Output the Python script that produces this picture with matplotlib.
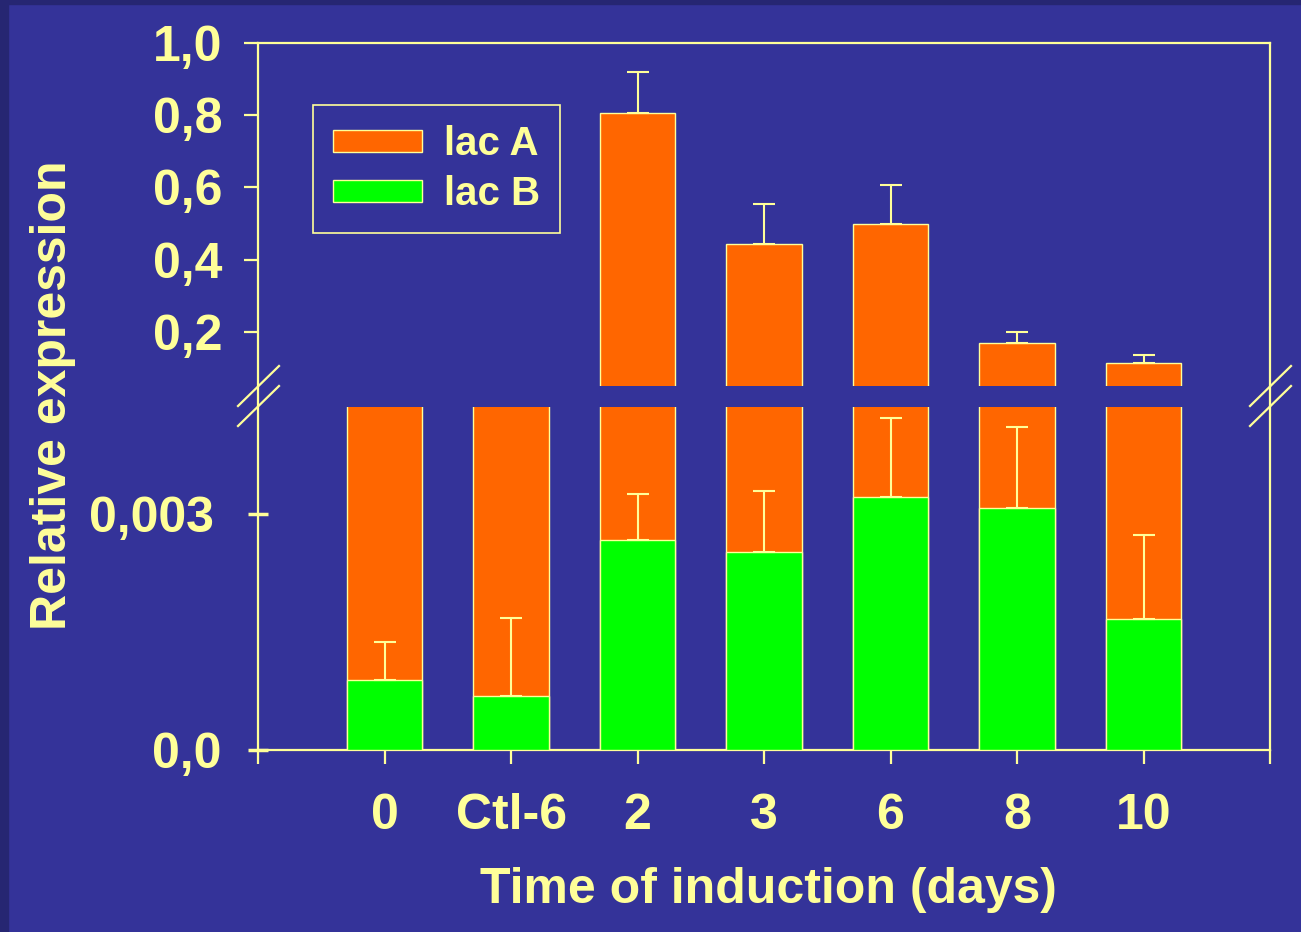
import matplotlib
matplotlib.use("Agg")
import matplotlib.pyplot as plt
from matplotlib.lines import Line2D
from matplotlib.patches import Rectangle
import numpy as np

plt.rcParams['font.family'] = ['Liberation Sans', 'DejaVu Sans']
plt.rcParams['font.weight'] = 'bold'

days = ['0', 'Ctl-6', '2', '3', '6', '8', '10']
# lac A for 0 and Ctl-6 lies off scale, between the two panels
lac_a = [0.02, 0.02, 0.805, 0.444, 0.499, 0.170, 0.114]
lac_a_err = [0.0, 0.0, 0.115, 0.110, 0.108, 0.030, 0.022]
lac_b = [0.00089, 0.00069, 0.00267, 0.00252, 0.00321, 0.00307, 0.00166]
lac_b_err = [0.00048, 0.00099, 0.00058, 0.00077, 0.00101, 0.00103, 0.00107]

top_ticks = [0.2, 0.4, 0.6, 0.8, 1.0]
top_labels = ['0,2', '0,4', '0,6', '0,8', '1,0']
bot_ticks = [0.0, 0.003]
bot_labels = ['0,0', '0,003']

bg = '#343399'
fg = '#FFFF99'
orange = '#FF6600'
green = '#00FF00'

W, H = 1301, 932
fig = plt.figure(figsize=(W / 100, H / 100), dpi=100, facecolor=bg)


def fx(x):
    return x / W


def fy(y):
    return 1 - y / H


# dark edge strips
fig.patches.append(Rectangle((0, 0), fx(8), 1, transform=fig.transFigure,
                             color='#262672', zorder=0))
fig.patches.append(Rectangle((0, fy(4)), 1, 1 - fy(4), transform=fig.transFigure,
                             color='#262672', zorder=0))

left, right = 258, 1270
ax_w = fx(right) - fx(left)
frame = fig.add_axes([fx(left), fy(750), ax_w, fy(43) - fy(750)])
ax_top = fig.add_axes([fx(left), fy(386), ax_w, fy(43) - fy(386)])
ax_bot = fig.add_axes([fx(left), fy(750), ax_w, fy(407) - fy(750)])

for a in (frame, ax_top, ax_bot):
    a.set_facecolor('none')
    a.set_xlim(-1, 7)
    for s in a.spines.values():
        s.set_visible(False)

frame.set_xticks([])
frame.set_yticks([])
for s in frame.spines.values():
    s.set_visible(True)
    s.set_color(fg)
    s.set_linewidth(1.6)

x = np.arange(len(days))
w = 0.6
lw = 1.0

for a in (ax_top, ax_bot):
    a.bar(x, lac_a, w, color=orange, edgecolor=fg, linewidth=lw, label='lac A')
    a.bar(x, lac_b, w, color=green, edgecolor=fg, linewidth=lw, label='lac B')

zeros = np.zeros(len(days))
ax_top.errorbar(x, lac_a, yerr=[zeros, lac_a_err], fmt='none', ecolor=fg,
                elinewidth=1.5, capsize=8, capthick=1.5)
ax_bot.errorbar(x, lac_b, yerr=[zeros, lac_b_err], fmt='none', ecolor=fg,
                elinewidth=1.5, capsize=8, capthick=1.5)

ax_top.set_ylim(0.05, 1.0)
ax_bot.set_ylim(0, 0.00436)

ax_top.set_xticks([])
ax_top.set_yticks(top_ticks)
ax_top.set_yticklabels(top_labels)
ax_top.tick_params(axis='y', colors=fg, labelcolor=fg, length=10, width=1.6,
                   labelsize=36, pad=15.5)

ax_bot.set_yticks(bot_ticks)
ax_bot.set_yticklabels(bot_labels)
ax_bot.tick_params(axis='y', colors=fg, labelcolor=fg, direction='inout',
                   length=15, width=2.5, labelsize=36, pad=10)
ytk = ax_bot.yaxis.get_major_ticks()
ytk[0].set_pad(19)
ytk[1].set_pad(24)
ax_bot.set_xticks(np.arange(-1, 8))
ax_bot.set_xticklabels([''] + days + [''])
ax_bot.tick_params(axis='x', colors=fg, labelcolor=fg, length=10, width=1.6,
                   labelsize=36, pad=21)

for t in ax_top.get_yticklabels() + ax_bot.get_yticklabels() + ax_bot.get_xticklabels():
    t.set_fontweight('bold')

# break marks
for bx in (258, 1270):
    for dy in (0, 20):
        fig.add_artist(Line2D([fx(bx - 20), fx(bx + 21)],
                              [fy(406 + dy), fy(366 + dy)],
                              transform=fig.transFigure, color=fg, lw=1.6))

leg = ax_top.legend(loc='upper left', bbox_to_anchor=(fx(313), fy(105)),
                    bbox_transform=fig.transFigure, borderaxespad=0,
                    fontsize=29, handlelength=2.2, handleheight=0.45,
                    labelspacing=0.3, borderpad=0.5, handletextpad=0.55,
                    fancybox=False, framealpha=1, facecolor=bg, edgecolor=fg)
leg.get_frame().set_linewidth(1.2)
for t in leg.get_texts():
    t.set_color(fg)
    t.set_fontweight('bold')

fig.text(fx(53), fy(395), 'Relative expression', rotation=90, color=fg,
         fontsize=36, fontweight='bold', ha='center', va='center')
fig.text(fx(768), fy(890), 'Time of induction (days)', color=fg,
         fontsize=36, fontweight='bold', ha='center', va='center')

fig.savefig('out.png', dpi=100, facecolor=bg)
